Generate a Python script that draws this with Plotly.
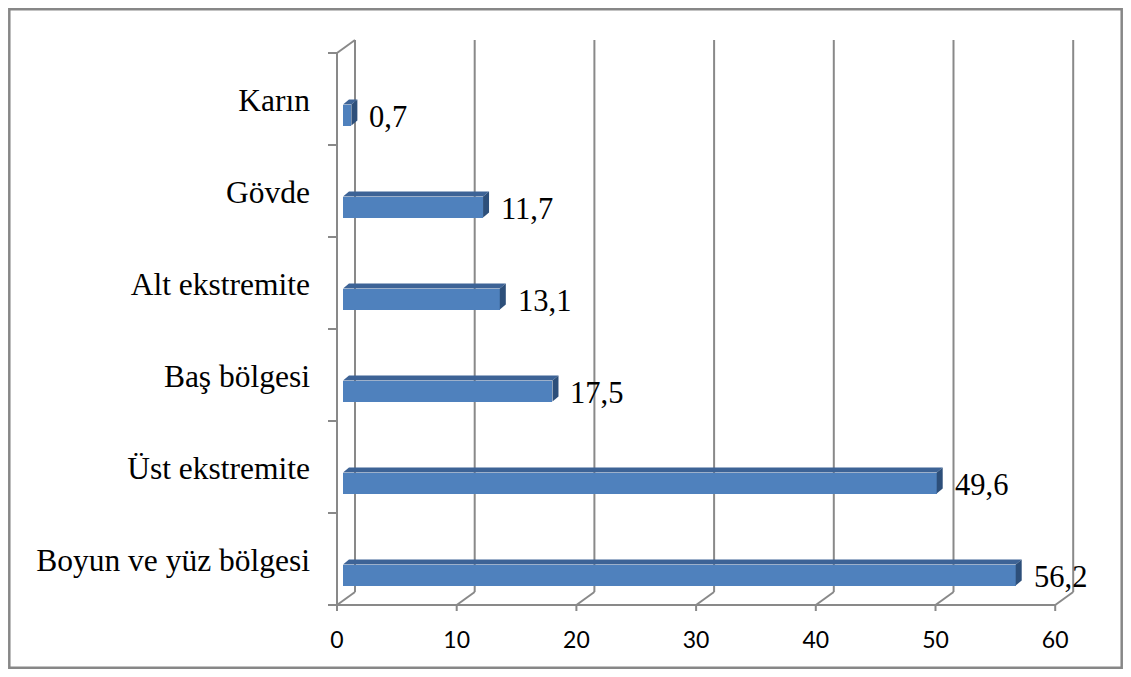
import plotly.graph_objects as go

# ---- data ----
categories = ["Boyun ve yüz bölgesi", "Üst ekstremite", "Baş bölgesi",
              "Alt ekstremite", "Gövde", "Karın"]
values = [56.2, 49.6, 17.5, 13.1, 11.7, 0.7]
tick_values = [0, 10, 20, 30, 40, 50, 60]
tick_labels = ["0", "10", "20", "30", "40", "50", "60"]

# ---- layout geometry (pixels, figure coords; page body adds 8px margin) ----
OFF = 8
W, H = 1131 - 2 * OFF, 677 - 2 * OFF
ML = 325 - OFF
MR = W - (1080 - OFF)
MT = 30 - OFF
MB = H - (620 - OFF)
PXU = 11.97     # px per x unit
PYU = 92.0      # px per category
X0PX = 343 - OFF    # px of x=0 in bar plane
Y0PX = 575 - OFF    # px of first category centre

plot_w = W - ML - MR
plot_h = H - MT - MB
x_range = [(ML - X0PX) / PXU, (W - MR - X0PX) / PXU]
y_range = [(Y0PX - (H - MB)) / PYU, (Y0PX - MT) / PYU]

def dx(px):
    return px / PXU

def dy(px):
    return px / PYU

pos = list(range(len(categories)))
bar_w = 21 / PYU

FRONT_X = dx(-6)
BACK_X = dx(12)
FLOOR_FRONT = (Y0PX - (605 - OFF)) / PYU
FLOOR_BACK = (Y0PX - (592 - OFF)) / PYU
N = len(categories)
GRID = "#898989"
GW = 2

fig = go.Figure()
fig.add_trace(go.Bar(
    x=values, y=pos, orientation="h", width=bar_w,
    marker=dict(color="#4f81bd", line=dict(width=0)),
    hoverinfo="skip", showlegend=False,
))

shapes = []
# back wall gridlines + floor diagonals + bottom ticks
for t in tick_values:
    shapes.append(dict(type="line", xref="x", yref="y", layer="below",
                       x0=t + BACK_X, x1=t + BACK_X,
                       y0=FLOOR_BACK, y1=FLOOR_BACK + N,
                       line=dict(color=GRID, width=GW)))
    shapes.append(dict(type="line", xref="x", yref="y", layer="below",
                       x0=t + BACK_X, x1=t + FRONT_X,
                       y0=FLOOR_BACK, y1=FLOOR_FRONT,
                       line=dict(color=GRID, width=GW)))
    shapes.append(dict(type="line", xref="x", yref="y", layer="below",
                       x0=t + FRONT_X, x1=t + FRONT_X,
                       y0=FLOOR_FRONT, y1=FLOOR_FRONT - dy(6),
                       line=dict(color=GRID, width=GW)))
# front floor line
shapes.append(dict(type="line", xref="x", yref="y", layer="below",
                   x0=dx(-15), x1=tick_values[-1] + FRONT_X,
                   y0=FLOOR_FRONT, y1=FLOOR_FRONT,
                   line=dict(color=GRID, width=GW)))
# left front vertical
shapes.append(dict(type="line", xref="x", yref="y", layer="below",
                   x0=FRONT_X, x1=FRONT_X,
                   y0=FLOOR_FRONT, y1=FLOOR_FRONT + N,
                   line=dict(color=GRID, width=GW)))
# left ticks
for k in range(1, N + 1):
    shapes.append(dict(type="line", xref="x", yref="y", layer="below",
                       x0=dx(-15), x1=FRONT_X,
                       y0=FLOOR_FRONT + k, y1=FLOOR_FRONT + k,
                       line=dict(color=GRID, width=GW)))
# top-left diagonal
shapes.append(dict(type="line", xref="x", yref="y", layer="below",
                   x0=FRONT_X, x1=BACK_X,
                   y0=FLOOR_FRONT + N, y1=FLOOR_BACK + N,
                   line=dict(color=GRID, width=GW)))

# 3D faces of bars
ddx, ddy = dx(6), dy(5)
for p, v in zip(pos, values):
    yt = p + bar_w / 2
    yb = p - bar_w / 2
    shapes.append(dict(type="path", xref="x", yref="y", layer="above",
                       path=f"M0,{yt} L{v},{yt} L{v+ddx},{yt+ddy} L{ddx},{yt+ddy} Z",
                       fillcolor="#3d6396", line=dict(width=0)))
    shapes.append(dict(type="path", xref="x", yref="y", layer="above",
                       path=f"M{v},{yt} L{v},{yb} L{v+ddx},{yb+ddy} L{v+ddx},{yt+ddy} Z",
                       fillcolor="#2d4f7a", line=dict(width=0)))

# outer frame (paper coords)
def px_to_paper_x(px):
    return (px - ML) / plot_w

def py_to_paper_y(py):
    return (H - MB - py) / plot_h

shapes.append(dict(type="rect", xref="paper", yref="paper",
                   x0=px_to_paper_x(1.3), x1=px_to_paper_x(W - 1.3),
                   y0=py_to_paper_y(H - 1.3), y1=py_to_paper_y(1.3),
                   line=dict(color="#878787", width=2.5)))

annotations = []
for p, v in zip(pos, values):
    annotations.append(dict(
        x=v, y=p, xref="x", yref="y", text=str(v).replace(".", ","),
        showarrow=False, xanchor="left", yanchor="middle", xshift=16, yshift=-2,
        font=dict(family="Liberation Serif", size=30.5, color="#000000")))

fig.update_layout(
    width=W, height=H,
    margin=dict(l=ML, r=MR, t=MT, b=MB, pad=0),
    paper_bgcolor="white", plot_bgcolor="rgba(0,0,0,0)",
    shapes=shapes, annotations=annotations,
    xaxis=dict(range=x_range, tickvals=tick_values, ticktext=tick_labels,
               showgrid=False, zeroline=False, showline=False, ticks="",
               ticklabelshift=-6, ticklabelstandoff=4,
               tickfont=dict(family="Lato", size=23, color="#000000"),
               fixedrange=True),
    yaxis=dict(range=y_range, tickvals=[p + 0.163 for p in pos], ticktext=categories,
               showgrid=False, zeroline=False, showline=False, ticks="",
               ticklabelstandoff=14,
               tickfont=dict(family="Liberation Serif", size=31.5, color="#000000"),
               fixedrange=True),
    bargap=0,
)

fig.write_html("out.html")
